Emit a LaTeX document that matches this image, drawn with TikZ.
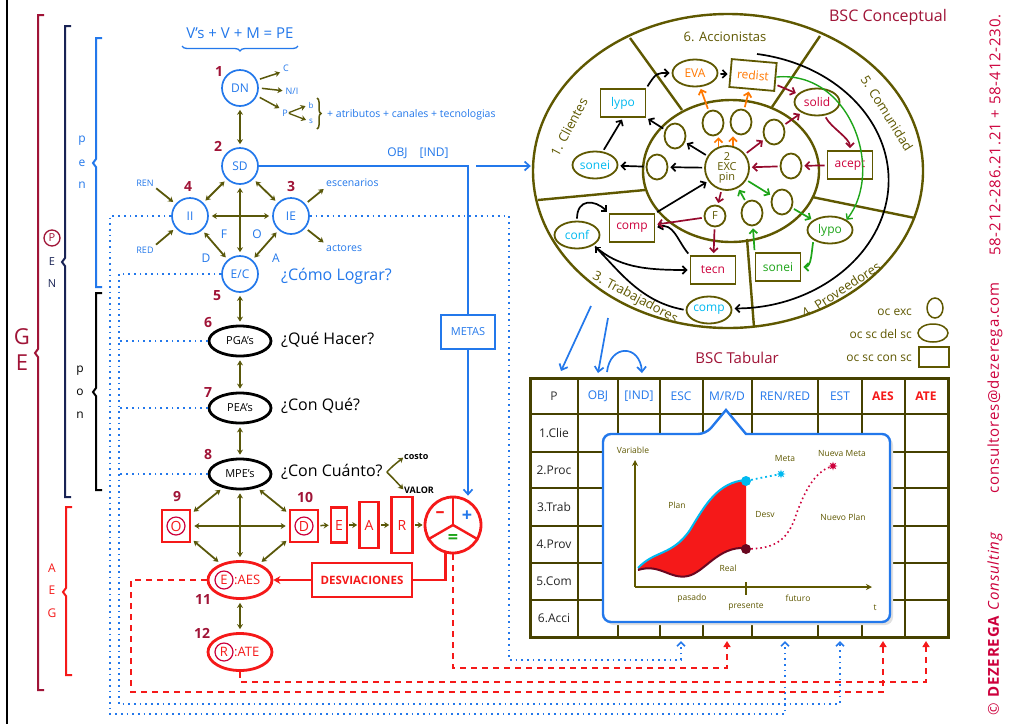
\documentclass[tikz,border=0pt]{standalone}
\usepackage{fontspec}
\setmainfont{Open Sans}
\usetikzlibrary{arrows.meta,calc,decorations.pathreplacing,shapes.geometric}

\definecolor{cblue}{RGB}{35,120,235}
\definecolor{colive}{RGB}{95,88,0}
\definecolor{carrow}{RGB}{90,88,10}
\definecolor{cred}{RGB}{245,25,25}
\definecolor{cwine}{RGB}{160,20,55}
\definecolor{ccyan}{RGB}{0,185,240}
\definecolor{corange}{RGB}{255,120,0}
\definecolor{cgreen}{RGB}{30,165,25}
\definecolor{ccrim}{RGB}{205,0,60}
\definecolor{cmaroon}{RGB}{150,10,45}
\definecolor{cnavy}{RGB}{25,35,85}
\definecolor{cgrid}{RGB}{70,65,0}

\newcommand\fsz[1]{\fontsize{#1}{#1}\selectfont}
% square bracket with a small notch at its middle
\newcommand\bracketmark[6]{%
  \draw[#1, line width=#6] (#2+6,#3) -- (#2,#3) -- (#2,#4-4) -- (#2-3,#4) -- (#2,#4+4) -- (#2,#5) -- (#2+6,#5);}

\tikzset{
  bcirc/.style={circle, draw=cblue, line width=1.7pt, minimum size=36pt, text=cblue, font=\fsz{12}},
  kell/.style={ellipse, draw=black, line width=2.8pt, minimum width=62pt, minimum height=30pt, font=\fsz{11}},
  rell/.style={ellipse, draw=cred, line width=2.8pt, minimum width=64pt, minimum height=37pt},
  rbox/.style={rectangle, draw=cred, line width=2.6pt, text=cred, font=\fsz{14}},
  rcirc/.style={circle, draw=ccrim, line width=1.2pt, minimum size=18pt, text=cred, font=\fsz{13}},
  num/.style={text=cwine, font=\bfseries\fsz{14}},
  quest/.style={anchor=west, font=\fsz{16}},
  stext/.style={text=cblue, font=\fsz{9}},
  olarr/.style={draw=carrow, line width=1.8pt, -{Stealth[length=5pt,width=6pt]}, shorten >=3pt, shorten <=3pt},
  oldarr/.style={olarr, {Stealth[length=5pt,width=6pt]}-{Stealth[length=5pt,width=6pt]}},
  bdot/.style={draw=cblue, line width=1.7pt, dash pattern=on 1.7pt off 4pt},
  rdash/.style={draw=cred, line width=2.8pt, dash pattern=on 6pt off 5pt},
  btip/.style={-{Straight Barb[length=4pt,width=8pt]}},
  rtip/.style={-{Triangle[length=6pt,width=7pt]}},
  oline/.style={draw=colive, line width=2.4pt},
  ocs/.style={ellipse, draw=colive, line width=1.8pt, minimum width=21pt, minimum height=25pt},
  oval/.style={ellipse, draw=colive, line width=1.8pt, minimum width=45pt, minimum height=27pt, font=\fsz{12}},
  sbox/.style={rectangle, draw=colive, line width=1.8pt, minimum width=45pt, minimum height=28pt, font=\fsz{12}},
  karr/.style={draw=black, line width=1.7pt, -{Straight Barb[length=4pt,width=8pt]}, shorten >=2pt, shorten <=2pt},
  marr/.style={karr, draw=cmaroon},
  garr/.style={karr, draw=cgreen},
  orarr/.style={karr, draw=corange},
  barr/.style={draw=cblue, line width=1.7pt, -{Straight Barb[length=5pt,width=9pt]}},
  sect/.style={text=colive, font=\fsz{13}},
  hd/.style={font=\fsz{12}},
  chart/.style={text=colive, font=\fsz{8.5}},
  tgrid/.style={draw=cgrid, line width=2.6pt},
  credit/.style={rotate=90, anchor=west, text=ccrim, font={\fsz{15}\addfontfeatures{LetterSpace=5.5}}},
}

\begin{document}
\begin{tikzpicture}[x=1pt, y=-1pt, every node/.style={inner sep=0pt}, font=\fsz{12}]
\useasboundingbox (0,0) rectangle (1033,724);
\fill[white] (0,0) rectangle (1033,724);

% left frame line
\draw[black, line width=1.5pt] (7,0) -- (7,724);

% ---------------- brackets at the left
\bracketmark{cwine}{38}{15}{353}{690}{2pt}
\bracketmark{cnavy}{65}{26}{262}{497}{2pt}
\bracketmark{cblue}{96}{38}{163}{287}{2pt}
\bracketmark{black}{96}{293}{392}{490}{2pt}
\bracketmark{cred}{66}{507}{592}{675}{2pt}

\node[text=cwine, font=\fsz{22}] (lG) at (22,337) {G};
\node[text=cwine, font=\fsz{22}] (lE) at (22,363) {E};
\node[circle, draw=cwine, line width=1.3pt, minimum size=16pt, text=cwine, font=\fsz{11}] (lP) at (52,238) {P};
\node[text=cnavy, font=\fsz{11}] (lE2) at (52,262) {E};
\node[text=cnavy, font=\fsz{11}] (lN) at (52,284) {N};
\node[text=cblue, font=\fsz{12}] (pn1) at (82,141) {p};
\node[text=cblue, font=\fsz{12}] (pn2) at (82,163) {e};
\node[text=cblue, font=\fsz{12}] (pn3) at (82,185) {n};
\node[text=black, font=\fsz{12}] (po1) at (80,371) {p};
\node[text=black, font=\fsz{12}] (po2) at (80,392) {o};
\node[text=black, font=\fsz{12}] (po3) at (80,415) {n};
\node[text=cred, font=\fsz{12}] (ag1) at (52,568) {A};
\node[text=cred, font=\fsz{12}] (ag2) at (52,590) {E};
\node[text=cred, font=\fsz{12}] (ag3) at (52,613) {G};

% ---------------- strategic chain
\node[text=cblue, font=\fsz{15}] (form) at (240,33) {V's + V + M = PE};
\draw[cblue, line width=1.3pt, decorate, decoration={brace, mirror, amplitude=5pt}] (182,46) -- (298,46);

\node[bcirc] (dn) at (240,88) {DN};
\node[num] (n1) at (219,71) {1};
\node[stext] (lc) at (286,68) {C};
\node[stext] (lni) at (292,91) {N/I};
\node[stext] (lp) at (285,113) {P};
\node[stext, font=\fsz{8}] (lb) at (311,105) {b};
\node[stext, font=\fsz{8}] (ls) at (311,121) {s};
\draw[olarr, line width=1.5pt] (dn.25) -- (lc.south west);
\draw[olarr, line width=1.5pt] (dn.east) -- (lni.west);
\draw[olarr, line width=1.5pt] (dn.-25) -- (lp.north west);
\draw[olarr, line width=1.3pt, shorten <=1pt] (lp.east) -- (lb.west);
\draw[olarr, line width=1.3pt, shorten <=1pt] (lp.east) -- (ls.west);
\draw[carrow, line width=1.5pt, decorate, decoration={brace, amplitude=4pt}] (317,98) -- (317,129);
\node[stext, anchor=west, font=\fsz{10.5}] (attr) at (327,115) {+ atributos + canales + tecnologias};

\node[bcirc] (sd) at (240,166) {SD};
\node[num] (n2) at (218,146) {2};
\draw[oldarr] (dn) -- (sd);

\node[bcirc] (ii) at (190,216) {II};
\node[bcirc] (ie) at (291,216) {IE};
\node[bcirc] (ec) at (240,274) {E/C};
\node[num] (n4) at (188,186) {4};
\node[num] (n3) at (291,186) {3};
\node[num] (n5) at (217,296) {5};
\draw[oldarr] (ii) -- (ie);
\draw[oldarr] (sd) -- (ec);
\draw[oldarr] (sd) -- (ii);
\draw[oldarr] (sd) -- (ie);
\draw[oldarr] (ii) -- (ec);
\draw[oldarr] (ie) -- (ec);
\node[text=cblue] (lF) at (224,234) {F};
\node[text=cblue] (lO) at (257,234) {O};
\node[text=cblue] (lD) at (206,258) {D};
\node[text=cblue] (lA) at (276,258) {A};
\node[stext] (ren) at (145,183) {REN};
\node[stext] (redl) at (145,250) {RED};
\draw[olarr] (ren.south east) -- (ii.140);
\draw[olarr] (redl.north east) -- (ii.220);
\node[stext, anchor=west, font=\fsz{10.5}] (esc) at (326,183) {escenarios};
\node[stext, anchor=west, font=\fsz{10.5}] (act) at (326,248) {actores};
\draw[olarr] (ie.40) -- (esc.south west);
\draw[olarr] (ie.-40) -- (act.north west);
\node[text=cblue, font=\fsz{16}, anchor=west] (como) at (281,276) {¿Cómo Lograr?};

\node[kell] (pga) at (240,341) {PGA's};
\node[kell] (pea) at (240,408) {PEA's};
\node[kell] (mpe) at (240,474) {MPE's};
\draw[oldarr] (ec) -- (pga);
\draw[oldarr] (pga) -- (pea);
\draw[oldarr] (pea) -- (mpe);
\node[num] (n6) at (208,323) {6};
\node[num] (n7) at (208,392) {7};
\node[num] (n8) at (208,454) {8};
\node[quest] (q1) at (281,340) {¿Qué Hacer?};
\node[quest] (q2) at (281,406) {¿Con Qué?};
\node[quest] (q3) at (281,472) {¿Con Cuánto?};
\node[font=\bfseries\fsz{9}, anchor=west] (costo) at (404,457) {costo};
\node[font=\bfseries\fsz{9}, anchor=west] (valor) at (404,490) {VALOR};
\coordinate (qsplit) at ($(q3.east)+(4,0)$);
\draw[olarr, line width=1.5pt, shorten <=0pt, shorten >=1pt] (qsplit) .. controls +(6,-6) .. (costo.west);
\draw[olarr, line width=1.5pt, shorten <=0pt, shorten >=1pt] (qsplit) .. controls +(6,6) .. (valor.west);

% ---------------- execution row
\node[rbox, minimum width=28pt, minimum height=32pt] (o9) at (176,526) {};
\node[rcirc, font=\fsz{14}] (o9c) at (176,526) {O};
\node[rbox, minimum width=28pt, minimum height=32pt] (d10) at (304,526) {};
\node[rcirc, font=\fsz{14}] (d10c) at (304,526) {D};
\node[num] (n9) at (177,497) {9};
\node[num] (n10) at (305,497) {10};
\node[rbox, minimum width=16pt, minimum height=35pt] (eb) at (339,525) {E};
\node[rbox, minimum width=19pt, minimum height=46pt] (ab) at (369,525) {A};
\node[rbox, minimum width=21pt, minimum height=56pt] (rb) at (402,525) {R};
\node[circle, draw=cred, line width=2.8pt, minimum size=56pt] (res) at (453,525) {};
\draw[cred, line width=2.4pt] (res.center) -- (res.north);
\draw[cred, line width=2.4pt] (res.center) -- (res.210);
\draw[cred, line width=2.4pt] (res.center) -- (res.330);
\node[text=cred, font=\bfseries\fsz{18}] (rminus) at (440,515) {–};
\node[text=cblue, font=\bfseries\fsz{18}] (rplus) at (467,516) {+};
\node[text=cgreen, font=\bfseries\fsz{18}] (requal) at (453,539) {=};
\draw[olarr, line width=1.5pt, shorten <=1pt, shorten >=1pt] (d10) -- (eb);
\draw[olarr, line width=1.5pt, shorten <=1pt, shorten >=1pt] (eb) -- (ab);
\draw[olarr, line width=1.5pt, shorten <=1pt, shorten >=1pt] (ab) -- (rb);
\draw[olarr, line width=1.5pt, shorten <=1pt, shorten >=1pt] (rb) -- (res);

\node[rell] (aes) at (240,580) {};
\node[rcirc] (aesE) at (224,580) {E};
\node[text=cred, font=\fsz{13}, anchor=west] (aesT) at (234,580) {:AES};
\node[rell] (ate) at (240,652) {};
\node[rcirc] (ateR) at (224,652) {R};
\node[text=cred, font=\fsz{13}, anchor=west] (ateT) at (234,652) {:ATE};
\node[num] (n11) at (203,599) {11};
\node[num] (n12) at (202,633) {12};

\draw[oldarr] (mpe) -- (o9);
\draw[oldarr] (mpe) -- (d10);
\draw[oldarr] (o9) -- (d10);
\draw[oldarr] (mpe) -- (aes);
\draw[oldarr] (o9) -- (aes);
\draw[oldarr] (d10) -- (aes);
\draw[oldarr] (aes) -- (ate);

\node[rbox, minimum width=100pt, minimum height=34pt, font=\bfseries\fsz{11.5}] (desv) at (362,580) {DESVIACIONES};
\draw[cred, line width=2.6pt] (res.255) |- (desv.east);
\draw[cred, line width=2.6pt, -{Stealth[length=7pt,width=8pt]}] (desv.west) -- (aes.east);

% ---------------- BSC conceptual
\node[ellipse, draw=colive, line width=2.4pt, minimum width=390pt, minimum height=314pt] (bsc) at (728,171) {};
\node[ellipse, draw=colive, line width=2.4pt, minimum width=176pt, minimum height=142pt] (core) at (731,171) {};
\draw[oline] (630,38) -- (682,110);
\draw[oline] (820,36) -- (772,107);
\draw[oline] (812,197) -- (915,218);
\draw[oline] (747,239) -- (754,327);
\draw[oline] (538,200) -- (645,190);

\node[sect] (s6) at (725,37) {6. Accionistas};
\node[sect, rotate=62] (s1) at (569,127) {1. Clientes};
\node[sect, rotate=-58] (s5) at (887,113) {5. Comunidad};
\node[sect, rotate=33] (s4) at (841,290) {4. Proveedores};
\node[sect, rotate=-28] (s3) at (635,298) {3. Trabajadores};

\node[circle, draw=colive, line width=1.8pt, minimum size=44pt, text=colive, align=center, font=\fontsize{11}{10}\selectfont] (exc) at (727,168) {2\\EXC\\pin};
\node[ocs] (c1) at (675,136) {};
\node[ocs] (c2) at (657,167) {};
\node[ocs] (c3) at (713,123) {};
\node[ocs] (c4) at (741,122) {};
\node[ocs] (c5) at (774,132) {};
\node[ocs] (c6) at (791,166) {};
\node[ocs] (c7) at (782,202) {};
\node[ocs] (c8) at (752,213) {};
\node[circle, draw=colive, line width=1.8pt, minimum size=21pt, text=colive, font=\fsz{11}] (fc) at (715,216) {F};

\node[oval, text=corange] (eva) at (695,73) {EVA};
\node[sbox, text=corange, rotate=-5] (redist) at (753,75) {redist};
\node[oval, text=ccrim] (solid) at (817,102) {solid};
\node[sbox, text=ccrim] (acept) at (850,165) {acept};
\node[oval, text=cgreen] (lypog) at (830,230) {lypo};
\node[sbox, text=cgreen] (soneig) at (778,267) {sonei};
\node[sbox, text=ccrim] (tecn) at (713,270) {tecn};
\node[sbox, text=ccrim] (compc) at (632,228) {comp};
\node[oval, text=ccyan] (conf) at (577,235) {conf};
\node[oval, text=ccyan] (compo) at (709,310) {comp};
\node[oval, text=ccyan] (soneic) at (595,165) {sonei};
\node[sbox, text=ccyan] (lypoc) at (623,103) {lypo};

% black flows
\draw[karr] (exc) -- (c1);
\draw[karr] (exc) -- (c2);
\draw[karr] (c2) -- (soneic);
\draw[karr] (c1) -- (lypoc);
\draw[karr] (soneic.60) -- (lypoc.south);
\draw[karr] (lypoc.north east) .. controls +(10,-16) and +(-14,0) .. (eva.west);
\draw[karr] (eva) -- (redist);
\draw[karr] (compc.north east) -- (exc.215);
\draw[karr] (conf.north) .. controls +(0,-22) and +(-14,-14) .. (compc.north west);
\draw[karr] (conf.south east) .. controls +(25,22) and +(-45,0) .. (tecn.west);
\draw[karr] (tecn.north west) .. controls +(-12,-14) and +(18,-6) .. (compc.east);
\draw[karr] (compo.west) .. controls +(-45,-8) and +(25,25) .. (conf.south east);
\draw[karr, shorten <=0pt] (757,54) arc[start angle=81, end angle=-90, x radius=156pt, y radius=128pt];
% maroon flows
\draw[marr] (acept) -- (c6);
\draw[marr] (c6) -- (exc);
\draw[marr] (exc) -- (c5);
\draw[marr] (c5) -- (solid);
\draw[marr] (redist) -- (solid);
\draw[marr] (solid.-60) .. controls +(6,12) and +(0,-12) .. (acept.north);
\draw[marr] (exc) -- (fc);
\draw[marr] (fc) -- (compc);
\draw[marr] (fc) -- (tecn);
% orange flows
\draw[orarr] (c3) -- (eva);
\draw[orarr] (c4) -- (redist);
\draw[orarr, shorten <=0pt, shorten >=1pt] (exc.112) -- (exc.112 |- c3.south);
\draw[orarr, shorten <=0pt, shorten >=1pt] (exc.75) -- (exc.75 |- c4.south);
% green flows
\draw[garr] (exc) -- (c7);
\draw[garr] (c7) -- (lypog);
\draw[garr] (lypog.south west) .. controls +(-2,12) and +(10,0) .. (soneig.east);
\draw[garr] (soneig.north west) -- (c8);
\draw[garr] (c8) -- (exc);
\draw[draw=cgreen, line width=1.4pt, -{Straight Barb[length=4pt,width=8pt]}] (redist.east) .. controls (850,70) and (885,170) .. (lypog.north east);

\node[text=cwine, font=\fsz{16}] (t1) at (888,17) {BSC Conceptual};

% legend
\node[text=colive, anchor=east] (lg1) at (912,312) {oc exc};
\node[ellipse, draw=colive, line width=1.5pt, minimum width=16pt, minimum height=20pt] (lg1s) at (935,308) {};
\node[text=colive, anchor=east] (lg2) at (912,334) {oc sc del sc};
\node[ellipse, draw=colive, line width=1.5pt, minimum width=30pt, minimum height=18pt] (lg2s) at (933,333) {};
\node[text=colive, anchor=east] (lg3) at (912,358) {oc sc con sc};
\node[rectangle, draw=colive, line width=1.5pt, minimum width=30pt, minimum height=20pt] (lg3s) at (934,357) {};

% ---------------- goals and objectives
\node[rectangle, draw=cblue, line width=1.8pt, minimum width=54pt, minimum height=34pt, text=cblue, font=\fsz{11}] (metas) at (468,332) {METAS};
\draw[cblue, line width=1.7pt] (sd.east) -| (metas.north);
\draw[barr] (metas.south) -- (metas.south |- res.north);
\node[text=cblue, font=\fsz{12}] (objind) at (418,153) {OBJ\quad[IND]};
\coordinate (objs) at (476,166);
\draw[barr, shorten >=1pt] (objs) -- (objs -| bsc.west);

% ---------------- BSC tabular
\node[text=cwine, font=\fsz{15}] (t2) at (737,358) {BSC Tabular};
\fill[white] (530,378) rectangle (948,637);
\foreach \x in {530,578,618,660,703,752,818,862,905,948} \draw[tgrid] (\x,378) -- (\x,637);
\foreach \y in {378,414,452,488,526,563,600,637} \draw[tgrid] (530,\y) -- (948,\y);
\draw[cgrid, line width=3pt] (530,378) rectangle (948,637);
\node[hd, text=black!80] (hP) at (554,396) {P};
\node[hd, text=cblue] (hOBJ) at (598,396) {OBJ};
\node[hd, text=cblue] (hIND) at (639,396) {{[IND]}};
\node[hd, text=cblue] (hESC) at (681,396) {ESC};
\node[hd, text=cblue] (hMRD) at (727,396) {M/R/D};
\node[hd, text=cblue] (hREN) at (785,396) {REN/RED};
\node[hd, text=cblue] (hEST) at (840,396) {EST};
\node[text=cred, font=\bfseries\fsz{12}] (hAES) at (883,396) {AES};
\node[text=cred, font=\bfseries\fsz{12}] (hATE) at (926,396) {ATE};
\foreach \y/\t in {433/1.Clie, 470/2.Proc, 507/3.Trab, 544/4.Prov, 581/5.Com, 618/6.Acci}
  \node[hd, text=black!85] (row\y) at (554,\y) {\t};
\coordinate (bESC) at (681,641);
\coordinate (bMRD) at (727,641);
\coordinate (bREN) at (785,641);
\coordinate (bEST) at (840,641);
\coordinate (bAES) at (883,641);
\coordinate (bATE) at (926,641);

% arrows from the conceptual map into the table header
\coordinate (tA) at (591,306); \coordinate (tAe) at (561,371);
\coordinate (tB) at (608,318); \coordinate (tBe) at (598,373);
\coordinate (cA) at (607,372); \coordinate (cB) at (642,373);
\draw[barr] (tA) -- (tAe);
\draw[barr] (tB) -- (tBe);
\draw[barr] (cA) .. controls (610,344) and (640,344) .. (cB);

% popup chart
\path[fill=black!12, rounded corners=8pt, xshift=3pt, yshift=-3pt] (603,434) -- (706,434) -- (726,410) -- (746,434) -- (890,434) -- (890,622) -- (603,622) -- cycle;
\draw[cblue, line width=2.4pt, fill=white, rounded corners=8pt] (603,434) -- (706,434) [sharp corners] -- (726,410) -- (746,434) [rounded corners=8pt] -- (890,434) -- (890,622) -- (603,622) -- cycle;
\coordinate (org) at (635,587);
\draw[colive, line width=1.6pt, -{Stealth[length=6pt,width=6pt]}] (org) -- (635,460);
\draw[colive, line width=1.6pt, -{Stealth[length=6pt,width=6pt]}] (org) -- (872,587);
\draw[colive, line width=1.6pt] (746,582) -- (746,595);
\fill[cred] (638,568) .. controls (655,550) and (672,556) .. (690,530) .. controls (705,505) and (718,482) .. (746,480)
  -- (746,548) .. controls (718,546) and (705,572) .. (688,576) .. controls (670,580) and (660,563) .. (638,570) -- cycle;
\draw[ccyan, line width=2pt] (638,568) .. controls (655,550) and (672,556) .. (690,530) .. controls (705,505) and (718,482) .. (746,480);
\draw[cmaroon!70!black, line width=2pt] (638,570) .. controls (660,563) and (670,580) .. (688,576) .. controls (705,572) and (718,546) .. (746,548);
\node[circle, fill=ccyan, minimum size=10pt] (pm) at (746,481) {};
\node[circle, fill=cmaroon!70!black, minimum size=10pt] (pr) at (746,549) {};
\node[star, star points=8, star point ratio=2.2, fill=ccyan, minimum size=9pt] (meta) at (781,474) {};
\node[star, star points=8, star point ratio=2.2, fill=ccrim, minimum size=9pt] (nmeta) at (833,466) {};
\draw[ccyan, line width=1.8pt, dash pattern=on 1.8pt off 3pt] (pm) .. controls (760,478) .. (meta);
\draw[ccrim, line width=1.6pt, dash pattern=on 1.6pt off 3pt] (pr) .. controls (775,548) and (788,540) .. (796,515) .. controls (805,490) and (815,472) .. (nmeta);
\node[chart] (cv) at (633,450) {Variable};
\node[chart] (cm) at (785,458) {Meta};
\node[chart] (cnm) at (842,453) {Nueva Meta};
\node[chart] (cp) at (677,505) {Plan};
\node[chart] (cd) at (765,514) {Desv};
\node[chart] (cnp) at (843,517) {Nuevo Plan};
\node[chart] (cr) at (728,568) {Real};
\node[chart] (cpa) at (692,598) {pasado};
\node[chart] (cpr) at (746,607) {presente};
\node[chart] (cfu) at (798,598) {futuro};
\node[chart] (ct) at (875,608) {t};

% ---------------- feedback lines into the table
\draw[bdot, btip] (ii.west) -| (110,714) -| (bREN);
\draw[bdot, btip] (ec.west) -| (119,704) -| (bEST);
\draw[bdot, btip] (ie.east) -| (509,660) -| (bESC);
\draw[bdot] (pga.west) -- (pga.west -| 119,0);
\draw[bdot] (pea.west) -- (pea.west -| 119,0);
\draw[bdot] (mpe.west) -- (mpe.west -| 119,0);
\draw[rdash, rtip] (res.south) -- (453,668) -| (bMRD);
\draw[rdash, rtip] (aes.west) -| (131,692) -| (bAES);
\draw[rdash, rtip] (ate.south) -- ++(0,10) -| (bATE);

% ---------------- credits
\node[credit] (cpy) at (995,716) {\textcopyright\ \textbf{DEZEREGA} \textit{Consulting}};
\node[credit] (mail) at (995,494) {consultores@dezerega.com};
\node[credit] (tel) at (995,256) {58-212-286.21.21 + 58-412-230.};
\end{tikzpicture}
\end{document}
